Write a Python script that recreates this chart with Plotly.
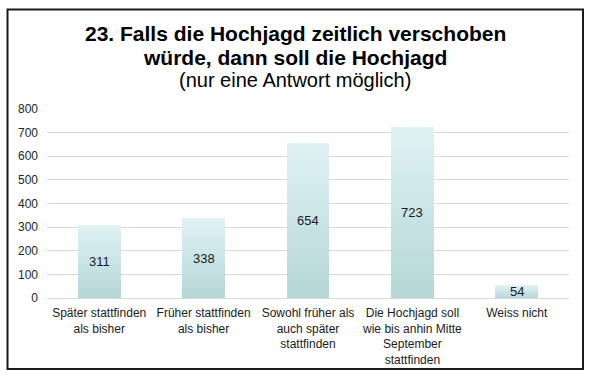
import plotly.graph_objects as go

categories = [
    "Später stattfinden<br>als bisher",
    "Früher stattfinden<br>als bisher",
    "Sowohl früher als<br>auch später<br>stattfinden",
    "Die Hochjagd soll<br>wie bis anhin Mitte<br>September<br>stattfinden",
    "Weiss nicht",
]
values = [311, 338, 654, 723, 54]
y_ticks = [0, 100, 200, 300, 400, 500, 600, 700, 800]
title_lines = [
    "<b>23. Falls die Hochjagd zeitlich verschoben</b>",
    "<b>würde, dann soll die Hochjagd</b>",
    "(nur eine Antwort möglich)",
]

FONT = "Arial, Liberation Sans, sans-serif"
W, H = 591, 376
L, R, T, B = 47, 22, 109, 78
PW, PH = W - L - R, H - T - B

def px_x(p):
    return (p - L) / PW

def px_y(p):
    return (H - B - p) / PH

# vertical gradient built as stacked slices of each bar
N = 40
bottom = (182, 214, 216)
top = (223, 242, 244)
fig = go.Figure()
xs = list(range(len(categories)))
for k in range(N):
    t = k / (N - 1)
    c = tuple(round(bottom[i] + (top[i] - bottom[i]) * t) for i in range(3))
    fig.add_trace(go.Bar(
        x=xs, y=[v / N for v in values],
        marker=dict(color="rgb(%d,%d,%d)" % c, line=dict(width=0)),
        width=0.41, showlegend=False, hoverinfo="skip",
    ))

annotations = []
for i, v in enumerate(values):
    annotations.append(dict(
        x=i, y=v / 2, xref="x", yref="y", text=str(v), showarrow=False,
        font=dict(family=FONT, size=13, color="#1a1a1a"),
    ))

title_y = [33, 57, 80]
title_sizes = [21, 21, 20]
for txt, yy, sz in zip(title_lines, title_y, title_sizes):
    annotations.append(dict(
        x=px_x(295), y=px_y(yy), xref="paper", yref="paper", text=txt,
        showarrow=False, xanchor="center", yanchor="middle",
        font=dict(family=FONT, size=sz, color="#000000"),
    ))

fig.update_layout(
    width=W, height=H,
    margin=dict(l=L, r=R, t=T, b=B, pad=0, autoexpand=False),
    paper_bgcolor="white", plot_bgcolor="white",
    barmode="stack", bargap=0.59,
    annotations=annotations,
    shapes=[dict(
        type="rect", xref="paper", yref="paper",
        x0=px_x(7.5), x1=px_x(583), y0=px_y(369), y1=px_y(9.5),
        line=dict(color="#1a1a1a", width=2), fillcolor="rgba(0,0,0,0)",
    )],
    font=dict(family=FONT),
)
fig.update_xaxes(
    tickmode="array", tickvals=xs, ticktext=categories,
    range=[-0.5, len(categories) - 0.5],
    showgrid=False, showline=False, ticks="",
    tickfont=dict(family=FONT, size=12, color="#1a1a1a"),
    tickangle=0, ticklabelstandoff=6, automargin=False,
)
fig.update_yaxes(
    range=[0, 800], tickmode="array", tickvals=y_ticks,
    showgrid=True, gridcolor="#d9d9d9", gridwidth=1,
    zeroline=True, zerolinecolor="#d9d9d9", zerolinewidth=1,
    showline=False, ticks="",
    tickfont=dict(family=FONT, size=12, color="#262626"),
    ticklabelstandoff=8, automargin=False,
)

fig.write_html("out.html")
